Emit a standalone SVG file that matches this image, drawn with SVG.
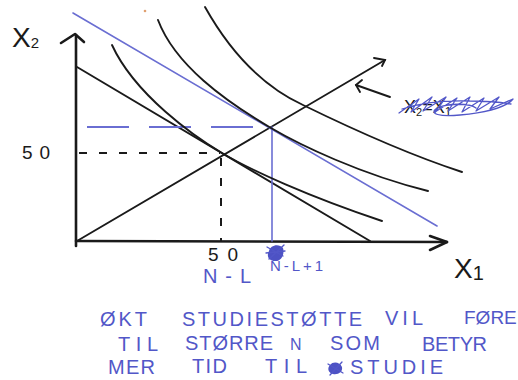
<svg xmlns="http://www.w3.org/2000/svg" width="518" height="380" viewBox="0 0 518 380">
<style>
.ax{stroke:#1a1a1a;stroke-width:2.6;fill:none;stroke-linecap:round;stroke-linejoin:round}
.bk{stroke:#1a1a1a;stroke-width:1.9;fill:none;stroke-linecap:round}
.bl{stroke:#6a6ed2;stroke-width:1.6;fill:none;stroke-linecap:round}
.dk{stroke:#1a1a1a;stroke-width:2;fill:none;stroke-dasharray:8 12}
.db{stroke:#6a6ed2;stroke-width:1.8;fill:none;stroke-dasharray:42 20}
.lab{font-family:"Liberation Sans",Arial,sans-serif;fill:#1a1a1a}
.hand{font-family:"Liberation Sans",Arial,sans-serif;fill:#5257c8;font-size:20px}
.scr{stroke:#5257c8;stroke-width:1.3;fill:none;stroke-linejoin:round;stroke-linecap:round}
</style>
<rect width="518" height="380" fill="#ffffff"/>
<circle cx="145" cy="11" r="1.3" fill="#e0a070"/>
<g id="axes">
<path class="ax" d="M76,246 L76,35"/>
<path class="ax" d="M61,43 L75,34 L84,42"/>
<path class="ax" d="M76,241 L447,242"/>
<path class="ax" d="M430,236 L447,242 L430,250"/>
</g>
<g id="connectors">
<path class="bk" d="M77,241 L385,60"/>
<path class="bk" d="M374,58 L385,60 L382,66"/>
<path class="bk" d="M390,97 L356,85"/>
<path class="bk" d="M362,80 L356,85 L360,92"/>
<path class="bk" d="M77,67 L370,241"/>
<path class="bl" d="M73,13 L437,226"/>
<path class="bl" d="M272,127 L272,241"/>
<path class="db" d="M87,127 L270,127"/>
<path class="dk" d="M79,153 L220,153"/>
<path class="dk" d="M221,158 L221,241" stroke-dasharray="7 9"/>
</g>
<g id="curves">
<path class="bk" d="M112,45 C135,95 195,137 222,153 C250,170 310,197 382,221"/>
<path class="bk" d="M158,20 C175,65 225,101 271,128 C300,145 360,174 428,191"/>
<path class="bk" d="M205,7 C228,48 260,85 303,105 C350,128 410,155 462,172"/>
</g>
<g id="labels">
<text class="lab" x="12" y="47" font-size="28">X<tspan font-size="15" dy="1">2</tspan></text>
<text class="lab" x="22" y="159" font-size="19" textLength="28" lengthAdjust="spacing">50</text>
<text class="lab" x="208" y="261" font-size="19" textLength="30" lengthAdjust="spacing">50</text>
<text class="lab" x="454" y="278" font-size="28">X<tspan font-size="20" dy="2">1</tspan></text>
<text class="hand" x="203" y="283" textLength="48" lengthAdjust="spacing" style="font-size:20px">N-L</text>
<text class="hand" x="270" y="271" textLength="53" lengthAdjust="spacing" style="font-size:15px">N-L+1</text>
<path d="M269,251 C270,245 279,243 283,248 C285,254 281,262 275,261 C269,261 266,256 269,251 Z" fill="#4d52c4"/>
<path class="scr" d="M267,247 L283,256 M269,259 L284,245 M266,253 L285,251"/>
</g>
<g id="crossed-label">
<text class="lab" x="404" y="113" font-size="18">X<tspan font-size="11" dy="3">2</tspan><tspan dy="-3" font-size="18">=X</tspan><tspan font-size="12" dy="3">1</tspan></text>
<path class="scr" d="M399,113 L419,99 L411,112 L432,97 L423,111 L446,97 L435,112 L457,98 L448,111 L470,97 L462,112 L484,98 L476,111 L499,97 L490,109 L513,99 C506,108 482,113 460,115 C440,117 428,114 437,108 C448,103 470,103 476,108 M402,109 C420,103 440,100 470,101 C490,101 505,103 511,104"/>
</g>
<g id="note">
<text class="hand" x="100" y="326" textLength="47" lengthAdjust="spacing">ØKT</text>
<text class="hand" x="182" y="326" textLength="180" lengthAdjust="spacing">STUDIESTØTTE</text>
<text class="hand" x="385" y="325" textLength="38" lengthAdjust="spacing">VIL</text>
<text class="hand" x="464" y="324" style="font-size:19px">FØRE</text>
<text class="hand" x="118" y="351" textLength="40" lengthAdjust="spacing">TIL</text>
<text class="hand" x="185" y="350" textLength="88" lengthAdjust="spacing">STØRRE</text>
<text class="hand" x="290" y="350" textLength="13" lengthAdjust="spacing" style="font-size:16px">N</text>
<text class="hand" x="330" y="350" textLength="50" lengthAdjust="spacing">SOM</text>
<text class="hand" x="422" y="351" textLength="65" lengthAdjust="spacing">BETYR</text>
<text class="hand" x="108" y="374" textLength="47" lengthAdjust="spacing">MER</text>
<text class="hand" x="192" y="373" textLength="35" lengthAdjust="spacing">TID</text>
<text class="hand" x="265" y="373" textLength="42" lengthAdjust="spacing">TIL</text>
<path d="M330,365 C333,361 340,362 342,367 C343,372 338,375 333,374 C328,373 327,368 330,365 Z" fill="#4d52c4"/>
<path class="scr" d="M328,364 L343,373 M330,375 L342,362"/>
<text class="hand" x="350" y="374" textLength="93" lengthAdjust="spacing">STUDIE</text>
</g>
</svg>
